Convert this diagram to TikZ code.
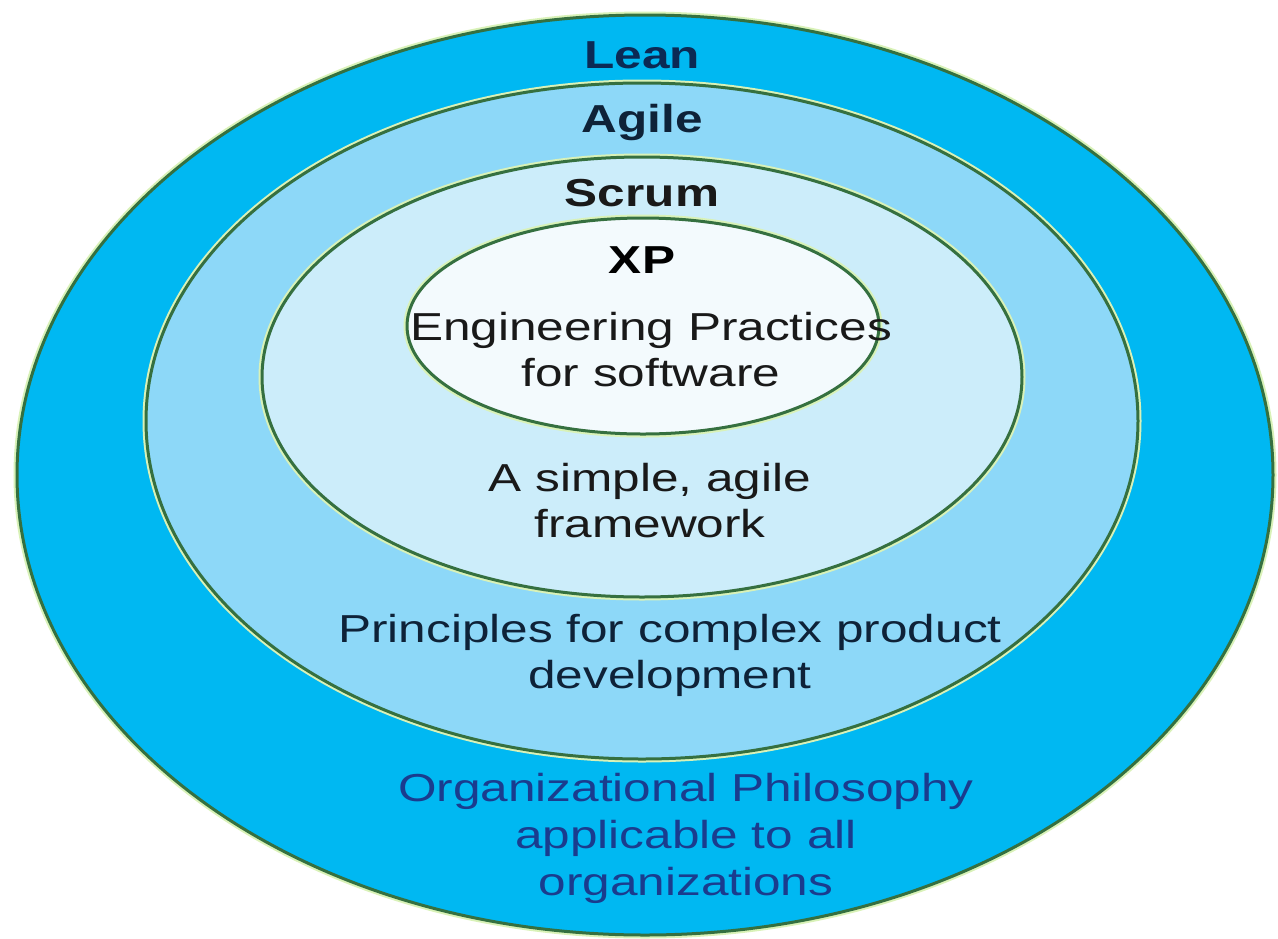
\documentclass[tikz,border=0pt]{standalone}
\usepackage{fontspec}
\setmainfont{Liberation Sans}
\definecolor{leanfill}{HTML}{00B8F2}
\definecolor{agilefill}{HTML}{8DD8F8}
\definecolor{scrumfill}{HTML}{CCEDFA}
\definecolor{xpfill}{HTML}{F3FAFD}
\definecolor{ringline}{HTML}{357040}
\definecolor{ringglow}{HTML}{D9F2B8}
\definecolor{navy}{HTML}{0B2A55}
\definecolor{darknavy}{HTML}{0E2238}
\definecolor{orgblue}{HTML}{1A3C8E}
\tikzset{
  ring/.style={draw=ringline, line width=3pt, preaction={draw=ringglow, line width=7pt}},
  lbl/.style={inner sep=0pt, align=center, transform shape, xscale=1.27,
              font=\fontsize{39}{46}\selectfont},
  blbl/.style={lbl, font=\fontsize{39}{46}\selectfont\bfseries}
}
\begin{document}
\begin{tikzpicture}[x=1pt,y=-1pt]
\useasboundingbox (0,0) rectangle (1278,938);
\fill[white] (0,0) rectangle (1278,938);
% rings
\path[ring, fill=leanfill]  (645,475) ellipse [x radius=628pt, y radius=460pt];
\path[ring, fill=agilefill] (642,421) ellipse [x radius=496pt, y radius=338pt];
\path[ring, fill=scrumfill] (642,377) ellipse [x radius=380pt, y radius=220pt];
\path[ring, fill=xpfill]    (643,326) ellipse [x radius=236pt, y radius=108pt];
% titles
\node[blbl, text=navy]     (lean)  at (642,55)  {Lean};
\node[blbl, text=darknavy] (agile) at (642,122) {Agile};
\node[blbl, text=black!90] (scrum) at (642,193) {Scrum};
\node[blbl, text=black]    (xp)    at (642,260) {XP};
% descriptions
\node[lbl, text=black!90] (eng) at (651,350) {Engineering Practices\\for software};
\node[lbl, text=black!90] (simple) at (650,501) {A simple, agile\\framework};
\node[lbl, text=darknavy] (princ) at (670,655) {Principles for complex product\\development};
\node[lbl, text=orgblue, font=\fontsize{39}{47}\selectfont] (org) at (686,838) {Organizational Philosophy\\applicable to all\\organizations};
\end{tikzpicture}
\end{document}
